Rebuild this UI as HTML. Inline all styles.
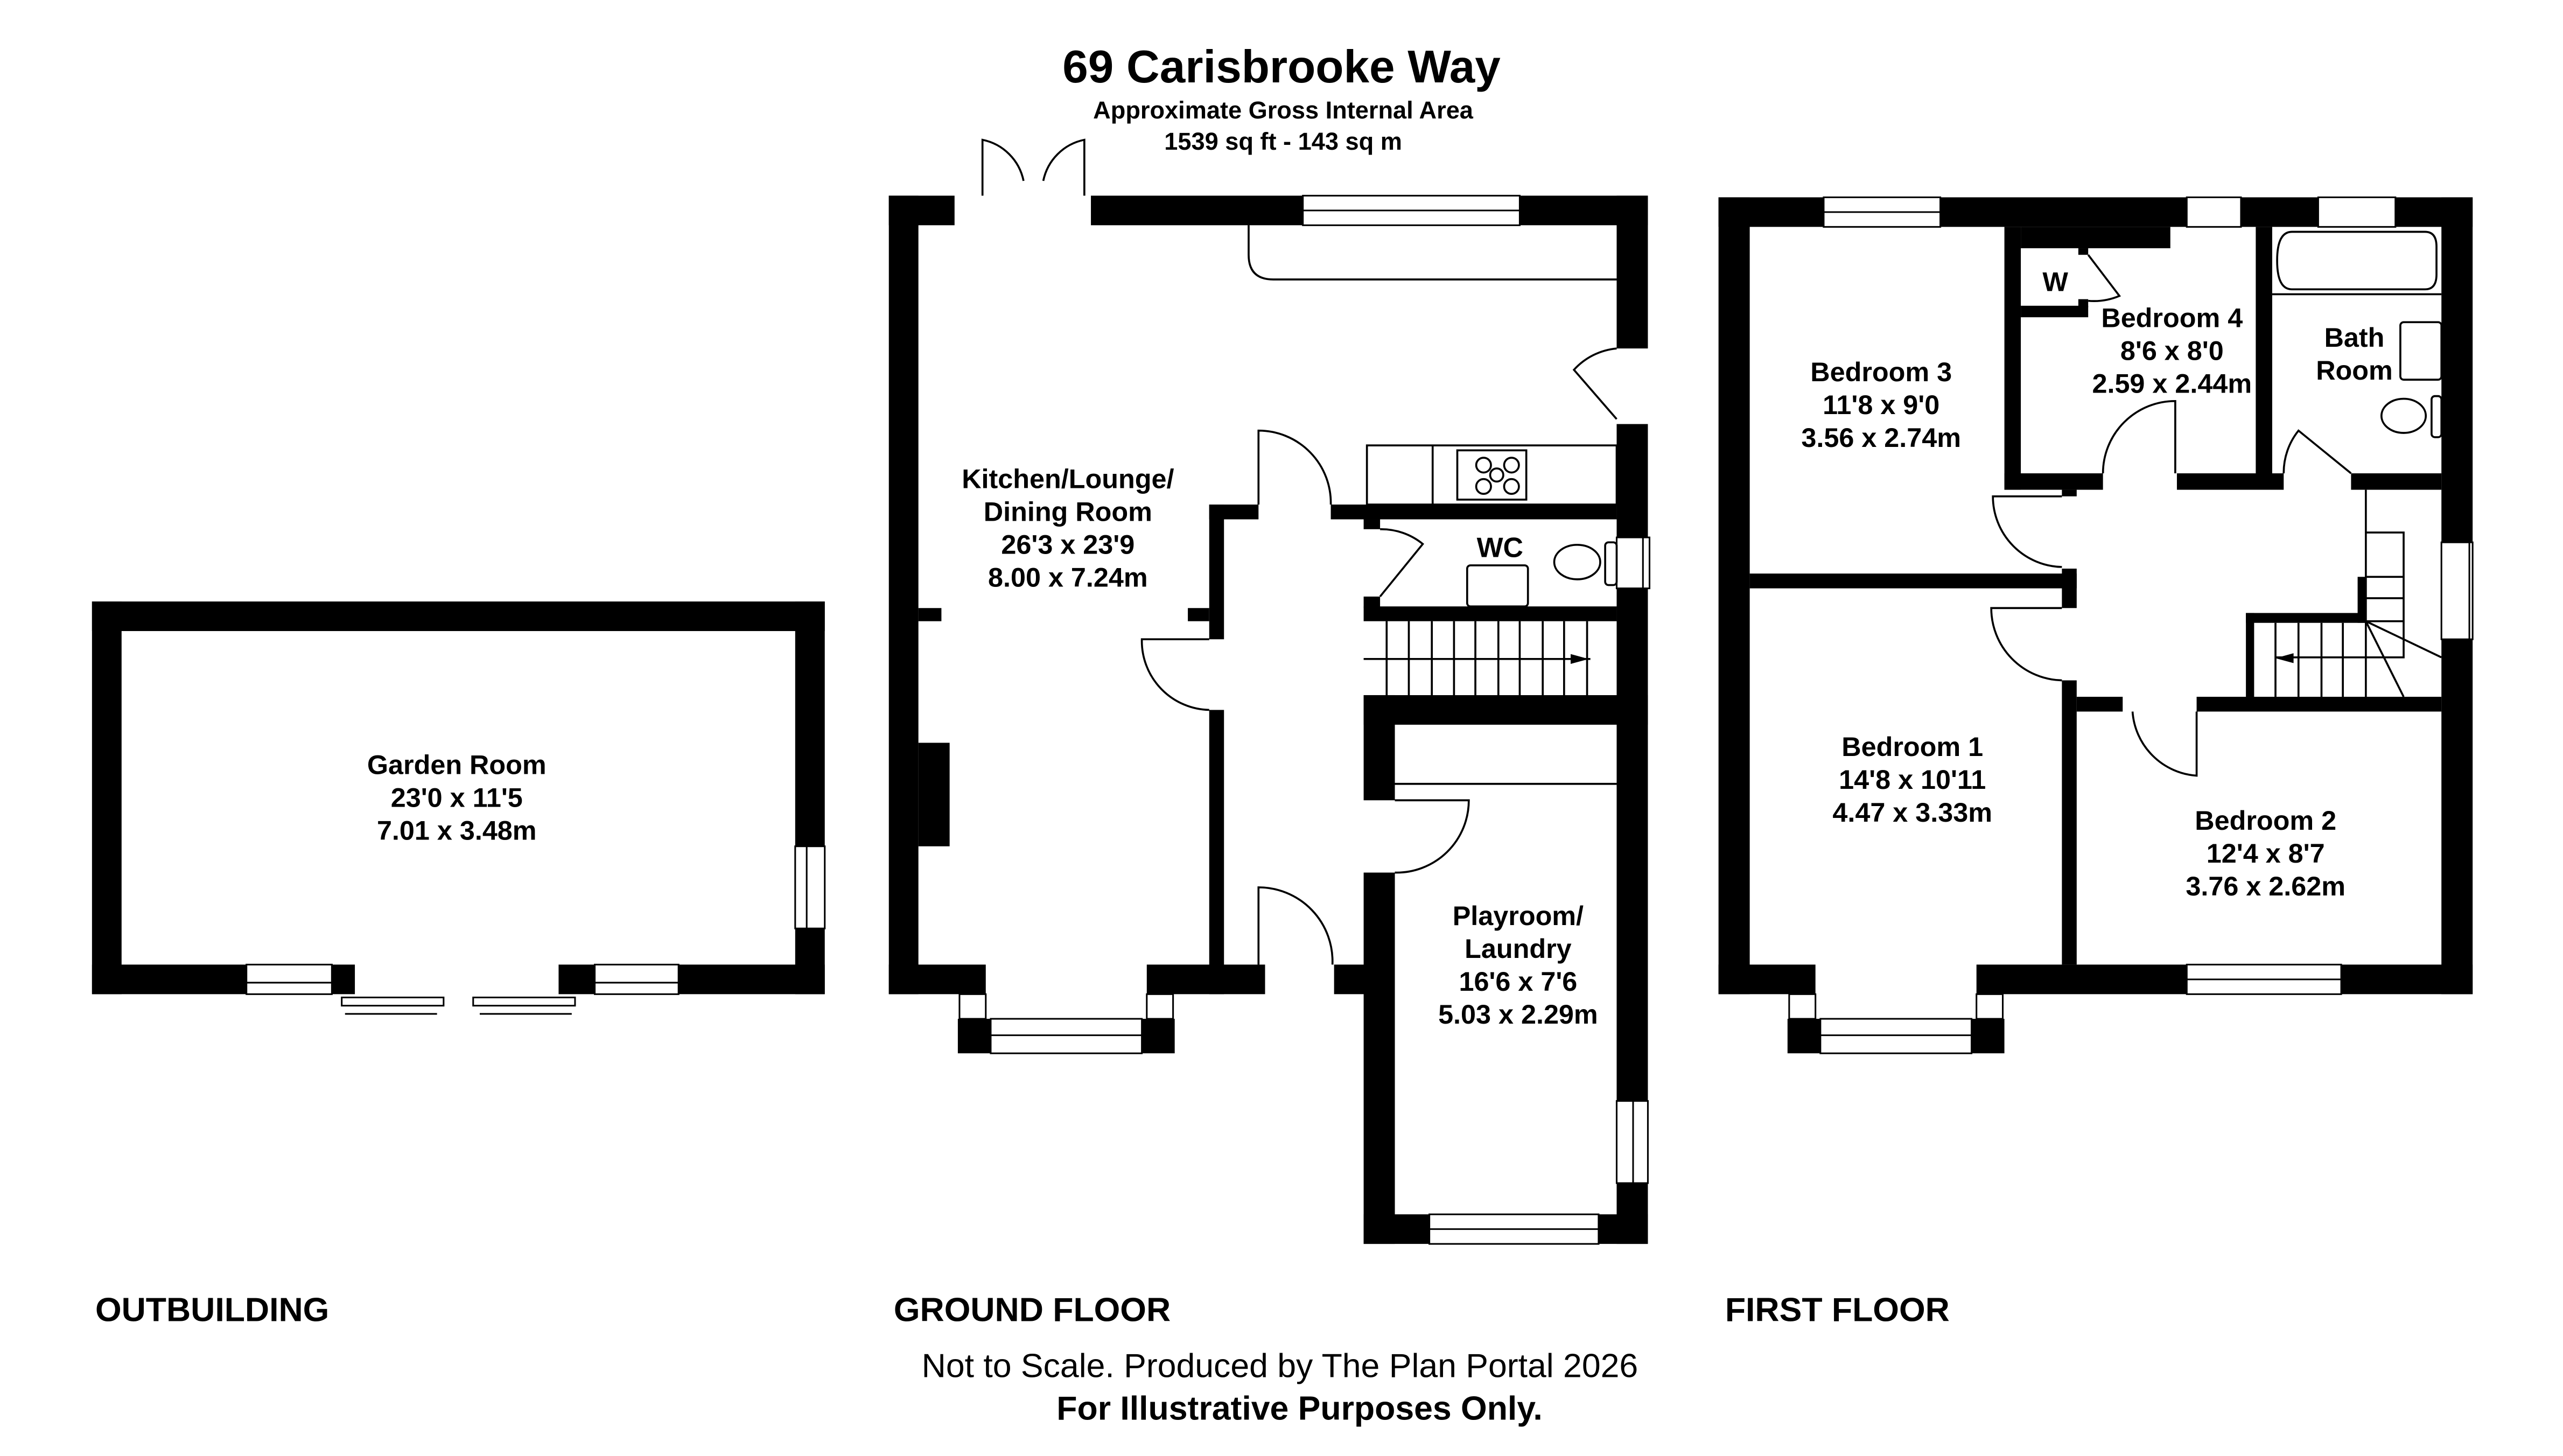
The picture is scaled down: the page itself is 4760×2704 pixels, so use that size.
<!DOCTYPE html>
<html><head><meta charset="utf-8"><style>
html,body{margin:0;padding:0;background:#fff;}
svg{display:block;}
text{font-family:"Liberation Sans",Arial,sans-serif;fill:#000;}
.b{font-weight:bold;}
</style></head><body>
<svg width="4760" height="2704" viewBox="0 0 1560 886" xmlns="http://www.w3.org/2000/svg">
<rect width="1560" height="886" fill="#fff"/>
<g text-anchor="middle">
<text x="780" y="50" class="b" font-size="28">69 Carisbrooke Way</text>
<text x="781" y="72" class="b" font-size="14.8">Approximate Gross Internal Area</text>
<text x="781" y="91" class="b" font-size="14.8">1539 sq ft - 143 sq m</text>
</g>

<!-- OUTBUILDING -->
<g fill="#000">
<rect x="56" y="366" width="446" height="18"/>
<rect x="56" y="366" width="18" height="239"/>
<rect x="484" y="366" width="18" height="239"/>
<rect x="56" y="587" width="160" height="18"/>
<rect x="340" y="587" width="162" height="18"/>
</g>
<g fill="#fff" stroke="#000" stroke-width="1">
<rect x="150" y="587" width="52" height="18"/><line x1="150" y1="598" x2="202" y2="598"/>
<rect x="362" y="587" width="51" height="18"/><line x1="362" y1="598" x2="413" y2="598"/>
<rect x="484" y="515" width="18" height="50"/><line x1="491" y1="515" x2="491" y2="565"/>
<rect x="208" y="607" width="62" height="5"/><rect x="288" y="607" width="62" height="5"/>
</g>
<g stroke="#000" stroke-width="1"><line x1="210" y1="617" x2="266" y2="617"/><line x1="292" y1="617" x2="348" y2="617"/></g>
<g text-anchor="middle" class="b" font-size="16.5">
<text x="278" y="471">Garden Room</text><text x="278" y="491">23'0 x 11'5</text><text x="278" y="511">7.01 x 3.48m</text>
</g>

<!-- GROUND FLOOR -->
<g fill="#000">
<rect x="541" y="119" width="40" height="18"/>
<rect x="664" y="119" width="339" height="18"/>
<rect x="541" y="119" width="18" height="486"/>
<rect x="559" y="370" width="14" height="8"/>
<rect x="559" y="452" width="19" height="63"/>
<rect x="984" y="119" width="19" height="93"/>
<rect x="984" y="258" width="19" height="183"/>
<rect x="541" y="587" width="59" height="18"/>
<rect x="698" y="587" width="72" height="18"/>
<rect x="583" y="620" width="20" height="21"/><rect x="695" y="620" width="20" height="21"/>
<rect x="736" y="307" width="9" height="82"/>
<rect x="736" y="432" width="9" height="173"/>
<rect x="736" y="307" width="30" height="9"/>
<rect x="723" y="370" width="13" height="8"/>
<rect x="812" y="587" width="36" height="18"/>
<rect x="810" y="307" width="174" height="9"/>
<rect x="830" y="316" width="10" height="6"/>
<rect x="830" y="363" width="10" height="7"/>
<rect x="830" y="369" width="154" height="9"/>
<rect x="830" y="423" width="173" height="18"/>
<rect x="830" y="423" width="19" height="64"/>
<rect x="830" y="531" width="19" height="226"/>
<rect x="830" y="739" width="173" height="18"/>
<rect x="984" y="425" width="19" height="332"/>
</g>
<g fill="#fff" stroke="#000" stroke-width="1">
<rect x="793" y="119" width="132" height="18"/><line x1="793" y1="128" x2="925" y2="128"/>
<rect x="603" y="620" width="92" height="21"/><line x1="603" y1="630" x2="695" y2="630"/>
<rect x="870" y="739" width="103" height="18"/><line x1="870" y1="748" x2="973" y2="748"/>
<rect x="984" y="670" width="19" height="50"/><line x1="994" y1="670" x2="994" y2="720"/>
<rect x="984" y="327" width="20" height="31"/><line x1="1000" y1="327" x2="1000" y2="358"/>
<rect x="584" y="605" width="16" height="15"/><rect x="698" y="605" width="16" height="15"/>
</g>
<g fill="none" stroke="#000" stroke-width="1.2">
<path d="M598 119 V85 A32 32 0 0 1 623 110 M660 119 V85 A32 32 0 0 0 635 110"/>
<path d="M760 137 V155 Q760 170 775 170 H984"/>
<path d="M984 212 A40 40 0 0 0 958 225 L984 255"/>
<path d="M766 307 V262 A44 44 0 0 1 810 307"/>
<path d="M736 389 H695 A42 42 0 0 0 736 432"/>
<path d="M840 322 A40 40 0 0 1 866 331 L840 363"/>
<path d="M849 487 H894 A44 44 0 0 1 849 531"/>
<path d="M766 587 V540 A45 45 0 0 1 811 587"/>
<rect x="832" y="271" width="152" height="36"/><line x1="872" y1="271" x2="872" y2="307"/>
<rect x="887" y="274" width="42" height="30"/>
<circle cx="903" cy="283" r="4.5"/><circle cx="920" cy="283" r="4.5"/><circle cx="903" cy="296" r="4.5"/><circle cx="920" cy="296" r="4.5"/><circle cx="911" cy="289" r="4"/>
<rect x="893" y="344" width="37" height="25" rx="2"/>
<ellipse cx="960" cy="342" rx="14" ry="10.5"/>
<rect x="977" y="330" width="7" height="26" rx="2"/>
<line x1="830" y1="401" x2="968" y2="401"/>
<path d="M844 378v45M857.5 378v45M871.5 378v45M885 378v45M898 378v45M912 378v45M925 378v45M939 378v45M952 378v45M966 378v45"/>
<line x1="849" y1="477" x2="984" y2="477"/>
</g>
<path d="M956 398 L967 401 L956 404Z" fill="#000"/>
<g text-anchor="middle" class="b" font-size="16.5">
<text x="650" y="297">Kitchen/Lounge/</text><text x="650" y="317">Dining Room</text><text x="650" y="337">26'3 x 23'9</text><text x="650" y="357">8.00 x 7.24m</text>
<text x="913" y="339" font-size="17">WC</text>
<text x="924" y="563">Playroom/</text><text x="924" y="583">Laundry</text><text x="924" y="603">16'6 x 7'6</text><text x="924" y="623">5.03 x 2.29m</text>
</g>

<!-- FIRST FLOOR -->
<g fill="#000">
<rect x="1046" y="120" width="459" height="18"/>
<rect x="1046" y="120" width="19" height="485"/>
<rect x="1486" y="120" width="19" height="485"/>
<rect x="1046" y="587" width="59" height="18"/>
<rect x="1203" y="587" width="302" height="18"/>
<rect x="1088" y="620" width="20" height="21"/><rect x="1200" y="620" width="20" height="21"/>
<rect x="1065" y="349" width="199" height="9"/>
<rect x="1255" y="298" width="9" height="4"/>
<rect x="1255" y="346" width="9" height="24"/>
<rect x="1255" y="414" width="9" height="173"/>
<rect x="1264" y="424" width="28" height="9"/>
<rect x="1337" y="424" width="149" height="9"/>
<!-- bedroom 4 -->
<rect x="1220" y="138" width="10" height="160"/>
<rect x="1230" y="138" width="91" height="13"/>
<rect x="1230" y="186" width="41" height="7"/>
<rect x="1265" y="151" width="6" height="4"/>
<rect x="1265" y="182" width="6" height="5"/>
<rect x="1220" y="288" width="60" height="10"/>
<rect x="1325" y="288" width="65" height="10"/>
<rect x="1373" y="138" width="10" height="155"/>
<rect x="1431" y="288" width="55" height="10"/>
<!-- stair walls -->
<rect x="1367" y="373" width="5" height="51"/>
<rect x="1367" y="373" width="73" height="6"/>
<rect x="1435" y="351" width="5" height="28"/>
</g>
<g fill="#fff" stroke="#000" stroke-width="1">
<rect x="1110" y="120" width="71" height="18"/><line x1="1110" y1="129" x2="1181" y2="129"/>
<rect x="1331" y="120" width="33" height="18"/>
<rect x="1411" y="120" width="47" height="18"/>
<rect x="1486" y="330" width="19" height="59"/><line x1="1503" y1="330" x2="1503" y2="389"/>
<rect x="1108" y="620" width="92" height="21"/><line x1="1108" y1="630" x2="1200" y2="630"/>
<rect x="1331" y="587" width="94" height="18"/><line x1="1331" y1="596" x2="1425" y2="596"/>
<rect x="1089" y="605" width="16" height="15"/><rect x="1203" y="605" width="16" height="15"/>
</g>
<g fill="none" stroke="#000" stroke-width="1.2">
<path d="M1255 302 H1213 A43 43 0 0 0 1255 345"/>
<path d="M1255 414 A44 44 0 0 1 1212 370 H1255"/>
<path d="M1280 288 A44 44 0 0 1 1324 244 V288"/>
<path d="M1298 433 A42 42 0 0 0 1337 472 V433"/>
<path d="M1390 288 A41 41 0 0 1 1399 262 L1431 288"/>
<path d="M1271 155 L1290 180 A40 40 0 0 1 1271 183"/>
<path d="M1395 141 H1476 Q1483 141 1483 150 V167 Q1483 176 1476 176 H1395 Q1386 176 1386 158.5 Q1386 141 1395 141Z"/>
<line x1="1383" y1="179" x2="1486" y2="179"/>
<rect x="1461" y="196" width="25" height="35" rx="2"/>
<ellipse cx="1463" cy="253" rx="13.5" ry="10.4"/>
<rect x="1480" y="241" width="6" height="25" rx="2"/>
<path d="M1440 298 V424 M1440 324 H1463 V400 H1385 M1440 351h23M1440 364h23M1440 378h23 M1440 378 L1486 400 M1440 378 L1463 424 M1385 379v45M1399 379v45M1413 379v45M1426 379v45"/>
</g>
<path d="M1385 400.5 L1396 397.5 L1396 403.5Z" fill="#000"/>
<g text-anchor="middle" class="b" font-size="16.5">
<text x="1251" y="177">W</text>
<text x="1322" y="199">Bedroom 4</text><text x="1322" y="219">8'6 x 8'0</text><text x="1322" y="239">2.59 x 2.44m</text>
<text x="1433" y="211">Bath</text><text x="1433" y="231">Room</text>
<text x="1145" y="232">Bedroom 3</text><text x="1145" y="252">11'8 x 9'0</text><text x="1145" y="272">3.56 x 2.74m</text>
<text x="1164" y="460">Bedroom 1</text><text x="1164" y="480">14'8 x 10'11</text><text x="1164" y="500">4.47 x 3.33m</text>
<text x="1379" y="505">Bedroom 2</text><text x="1379" y="525">12'4 x 8'7</text><text x="1379" y="545">3.76 x 2.62m</text>
</g>

<g class="b" font-size="20.5">
<text x="58" y="804">OUTBUILDING</text>
<text x="544" y="804">GROUND FLOOR</text>
<text x="1050" y="804">FIRST FLOOR</text>
</g>
<g text-anchor="middle" font-size="20.5">
<text x="779" y="838">Not to Scale. Produced by The Plan Portal 2026</text>
<text x="791" y="864" class="b">For Illustrative Purposes Only.</text>
</g>
</svg>
</body></html>
